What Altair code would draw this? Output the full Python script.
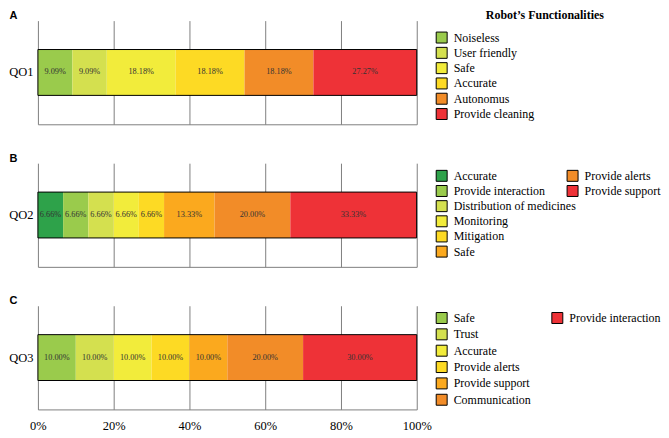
import altair as alt
import pandas as pd

# ---- data ----
a_cats = ["Noiseless", "User friendly", "Safe", "Accurate", "Autonomus", "Provide cleaning"]
a_vals = [9.09, 9.09, 18.18, 18.18, 18.18, 27.27]
a_colors = ["#9ACB4C", "#D4E04F", "#F2EC3B", "#FDDA24", "#F28C28", "#EE3237"]

b_cats = ["Accurate", "Provide interaction", "Distribution of medicines", "Monitoring",
          "Mitigation", "Safe", "Provide alerts", "Provide support"]
b_vals = [6.66, 6.66, 6.66, 6.66, 6.66, 13.33, 20.00, 33.33]
b_colors = ["#2EA24A", "#9ACB4C", "#D4E04F", "#F2EC3B", "#FDDA24", "#FBA91E", "#F28C28", "#EE3237"]

c_cats = ["Safe", "Trust", "Accurate", "Provide alerts", "Provide support",
          "Communication", "Provide interaction"]
c_vals = [10.00, 10.00, 10.00, 10.00, 10.00, 20.00, 30.00]
c_colors = ["#9ACB4C", "#D4E04F", "#F2EC3B", "#FDDA24", "#FBA91E", "#F28C28", "#EE3237"]

tick_values = [0, 20, 40, 60, 80, 100]
legend_title = "Robot\u2019s Functionalities"

SERIF = "Liberation Serif"
SANS = "Liberation Sans"
W, H = 380, 104
BAR_H = 46


def panel(qname, letter, cats, vals, colors, show_labels, col2_x, row_range, with_title):
    df = pd.DataFrame({"q": qname, "cat": cats, "value": vals, "idx": list(range(len(cats)))})
    df["col"] = df["idx"] // 6
    df["row"] = df["idx"] % 6
    base = alt.Chart(df)

    color = alt.Color("cat:N", scale=alt.Scale(domain=cats, range=colors), legend=None)
    xscale = alt.Scale(domain=[0, 100])
    xaxis = alt.Axis(values=tick_values, grid=True, ticks=False, labels=show_labels,
                     labelExpr="datum.value + '%'", labelFont=SERIF, labelFontSize=12.5,
                     labelColor="black", labelPadding=10, labelFlush=False,
                     domain=True, title=None)
    yaxis = alt.Axis(title=letter, titleAngle=0, titleX=-25, titleY=-5, titleFont=SANS,
                     titleFontWeight="bold", titleFontSize=11, titleAlign="center",
                     titleBaseline="middle", titleColor="black",
                     labelFont=SERIF, labelFontSize=12.5, labelColor="black",
                     labelPadding=5, ticks=False, domain=False)
    yenc = alt.Y("q:N", axis=yaxis)

    stacked = base.transform_stack(stack="value", groupby=["q"], as_=["x0", "x1"],
                                   sort=[alt.SortField("idx", order="ascending")])
    bars = stacked.mark_bar(height=BAR_H).encode(
        x=alt.X("x0:Q", scale=xscale, axis=xaxis), x2="x1:Q", y=yenc, color=color)
    outline = base.mark_bar(height=BAR_H, fillOpacity=0, stroke="black", strokeWidth=1).encode(
        x=alt.X("sum(value):Q", scale=xscale, axis=xaxis), y=yenc)
    text = stacked.transform_calculate(
        mid="(datum.x0 + datum.x1) / 2",
        label="format(datum.value, '.2f') + '%'",
    ).mark_text(font=SERIF, fontSize=8.3, color="#333333").encode(
        x=alt.X("mid:Q", scale=xscale, axis=xaxis), y=yenc, text="label:N")
    bar_layer = alt.layer(bars, outline, text)

    col_range = [405, col2_x]
    if with_title:
        lxaxis = alt.Axis(orient="top", title=legend_title, titleX=508, titleY=-6,
                          titleFont=SERIF, titleFontWeight="bold", titleFontSize=12,
                          titleAlign="center", titleBaseline="middle", titleColor="black",
                          labels=False, ticks=False, domain=False, grid=False)
        lx = alt.X("col:Q", scale=alt.Scale(domain=[0, 1], range=col_range), axis=lxaxis)
    else:
        lx = alt.X("col:Q", scale=alt.Scale(domain=[0, 1], range=col_range), axis=None)
    ly = alt.Y("row:Q", scale=alt.Scale(domain=[0, 5], range=row_range), axis=None)
    squares = base.mark_square(size=121, stroke="black", strokeWidth=1, opacity=1).encode(
        x=lx, y=ly, color=color)
    labels = base.mark_text(align="left", baseline="middle", dx=12, font=SERIF,
                            fontSize=12, color="black").encode(x=lx, y=ly, text="cat:N")
    legend_layer = alt.layer(squares, labels)

    return alt.layer(bar_layer, legend_layer).resolve_scale(
        x="independent", y="independent").properties(width=W, height=H)


pA = panel("QO1", "A", a_cats, a_vals, a_colors, False, 536, [17, 93.7], True)
pB = panel("QO2", "B", b_cats, b_vals, b_colors, False, 536.3, [12.7, 88.7], False)
pC = panel("QO3", "C", c_cats, c_vals, c_colors, True, 521, [12.3, 94.3], False)

chart = alt.vconcat(pA, pB, pC, spacing=39, bounds="flush").resolve_scale(
    x="independent", y="independent", color="independent"
).configure_view(strokeWidth=0).configure_axis(
    gridColor="#808080", gridWidth=1, domainColor="#808080", domainWidth=1
).properties(padding=0)

chart.save("out.html", embed_options={"renderer": "svg", "actions": False})
